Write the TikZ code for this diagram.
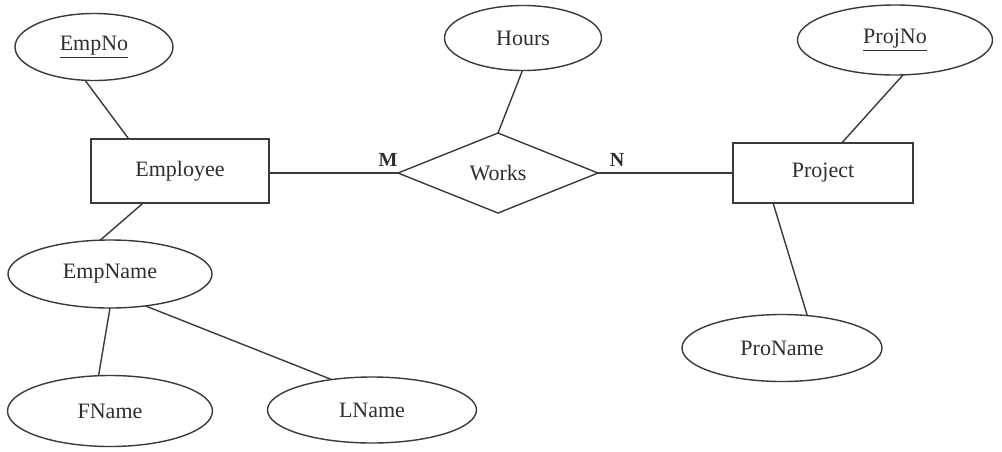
\documentclass[tikz,border=0pt]{standalone}
\usepackage{fontspec}
\setmainfont{Liberation Serif}
\usetikzlibrary{shapes.geometric}
\definecolor{ln}{HTML}{3A3A3A}
\definecolor{txt}{HTML}{2E2E2E}
\begin{document}
\begin{tikzpicture}[x=1pt,y=-1pt,
  every node/.style={font=\fontsize{22}{26}\selectfont, text=txt, inner sep=0pt, outer sep=0pt},
  attr/.style={draw=ln, line width=1.4pt, ellipse},
  ent/.style={draw=ln, line width=1.4pt, rectangle},
  rel/.style={draw=ln, line width=1.4pt, diamond},
  conn/.style={draw=ln, line width=1.4pt},
  card/.style={font=\fontsize{20}{24}\selectfont\bfseries}]
\useasboundingbox[fill=white] (0,0) rectangle (1002,451);
\node[attr, minimum width=158pt, minimum height=67pt] (empno) at (94,47) {\underline{EmpNo}};
\node[attr, minimum width=157pt, minimum height=65pt] (hours) at (523,38) {Hours};
\node[attr, minimum width=195pt, minimum height=70pt] (projno) at (895,40) {\underline{ProjNo}};
\node[ent, minimum width=178pt, minimum height=64pt] (emp) at (180,171) {Employee};
\node[rel, minimum width=200pt, minimum height=80pt] (works) at (498,173) {Works};
\node[ent, minimum width=180pt, minimum height=60pt] (proj) at (823,173) {Project};
\node[attr, minimum width=204pt, minimum height=68pt] (empname) at (110,274) {EmpName};
\node[attr, minimum width=205pt, minimum height=71pt] (fname) at (110,411) {FName};
\node[attr, minimum width=209pt, minimum height=66pt] (lname) at (372,410) {LName};
\node[attr, minimum width=200pt, minimum height=67pt] (proname) at (782,348) {ProName};
\node[card] (m) at (388,160) {M};
\node[card] (n) at (617,160) {N};
\draw[conn] (empno.255) -- (emp.148);
\draw[conn] (hours.269) -- (works.north);
\draw[conn] (projno.283) -- (proj.58);
\draw[conn] (emp.221) -- (empname.106);
\draw[conn] (empname.270) -- (fname.108);
\draw[conn] (empname.318) -- (lname.143);
\draw[conn] (proj.211) -- (proname.52);
\draw[conn] (works.west) -- (works.west -| emp.east);
\draw[conn] (works.east) -- (proj.west);
\end{tikzpicture}
\end{document}
